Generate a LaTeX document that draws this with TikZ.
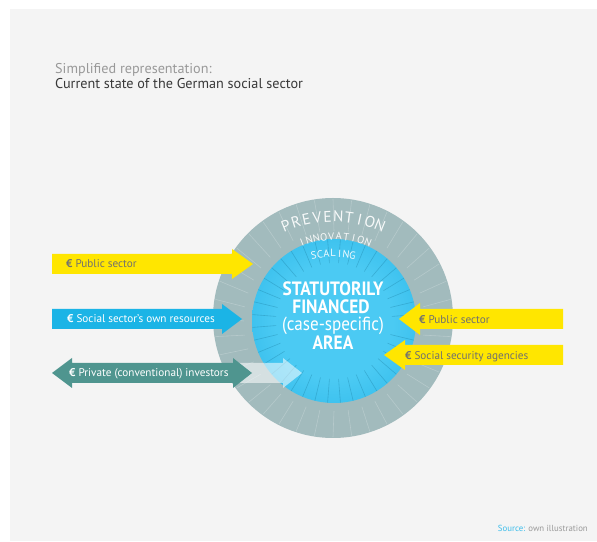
\documentclass[tikz,border=0pt]{standalone}
\usepackage{fontspec}
\setmainfont{PT Sans}
\newfontfamily\din[FakeStretch=0.9]{PT Sans}
\usetikzlibrary{calc}
\definecolor{bgc}{HTML}{F4F4F4}
\definecolor{ylw}{HTML}{FFE600}
\definecolor{cyn}{HTML}{1BB4E6}
\definecolor{tel}{HTML}{4F958F}
\definecolor{ringc}{HTML}{B2C9CB}
\definecolor{ringd}{HTML}{A2BBBD}
\definecolor{bc1}{HTML}{4BCAF3}
\definecolor{bc2}{HTML}{12A8E0}
\definecolor{ytxt}{HTML}{707070}
\definecolor{srcc}{HTML}{3CBDEB}
\pgfdeclareradialshading{bluecore}{\pgfpoint{0bp}{0bp}}{color(0bp)=(bc1); color(18bp)=(bc1); color(50bp)=(bc2)}
\pgfdeclareradialshading{ringsh}{\pgfpoint{0bp}{0bp}}{color(0bp)=(ringd); color(38bp)=(ringd); color(50bp)=(ringc!85!white)}
\tikzset{
  arrtxt/.style={inner sep=0pt, anchor=base west, font=\fontsize{11.2}{13}\selectfont},
  ringtxt/.style={inner sep=0pt, anchor=base, text=white, text opacity=0.92},
  coretxt/.style={inner sep=0pt, anchor=base, text=white, font=\din\bfseries\fontsize{19.3}{21}\selectfont},
}
\begin{document}
\begin{tikzpicture}[x=1pt,y=1pt]
\useasboundingbox (0,0) rectangle (597,541);
\fill[white] (0,0) rectangle (597,541);
\fill[bgc] (10,0) rectangle (597,532);
% title
\node[inner sep=0pt, anchor=base west, text=black!40, font=\fontsize{14.2}{16}\selectfont] (t1) at (55,467) {Simplified representation:};
\node[inner sep=0pt, anchor=base west, text=black!78, font=\fontsize{14.2}{16}\selectfont] (t2) at (55,452) {Current state of the German social sector};
% circle
\coordinate (C) at (333,223);
\coordinate (B) at (334,220);
\shade[shading=ringsh] (C) circle (120);
\foreach \a in {0,9,...,351}{
  \draw[white, opacity=0.22, line width=0.6pt] ($(B)+(\a:90)$) -- ($(C)+(\a:119)$);
}
\fill[ringd] (B) circle (89);
\shade[shading=bluecore] (B) circle (82);
\foreach \a in {4.5,13.5,...,355}{
  \draw[black!40!bc2, opacity=0.28, line width=0.6pt] ($(B)+(\a:58)$) -- ($(B)+(\a:82)$);
}
% ring words
\coordinate (P0) at (333,199);
\foreach \ch [count=\i] in {P,R,E,V,E,N,T,I,O,N}{
  \pgfmathsetmacro\ang{90+(5.5-\i)*4.9}
  \node[ringtxt, font=\fontsize{15.5}{16}\selectfont, rotate=\ang-90] (pv\i) at ($(P0)+(\ang:120)$) {\ch};
}
\coordinate (I0) at (335,215);
\foreach \ch [count=\i] in {I,N,N,O,V,A,T,I,O,N}{
  \pgfmathsetmacro\ang{90+(5.5-\i)*4.8}
  \node[ringtxt, font=\fontsize{10.5}{12}\selectfont, rotate=\ang-90] (in\i) at ($(I0)+(\ang:86)$) {\ch};
}
\coordinate (S0) at (333,184);
\foreach \ch [count=\i] in {S,C,A,L,I,N,G}{
  \pgfmathsetmacro\ang{90+(4-\i)*3.6}
  \node[ringtxt, font=\fontsize{10.5}{12}\selectfont, rotate=\ang-90] (sc\i) at ($(S0)+(\ang:100)$) {\ch};
}
% core text
\node[coretxt] (c1) at (333,245) {STATUTORILY};
\node[coretxt] (c2) at (331,227.5) {FINANCED};
\node[coretxt, font=\din\fontsize{19}{20}\selectfont] (c3) at (333,210) {(case-specific)};
\node[coretxt] (c4) at (333,191) {AREA};
% left arrows
\fill[ylw] (52,267)--(232,267)--(232,262)--(253,277)--(232,292)--(232,287)--(52,287)--cycle;
\node[arrtxt, text=ytxt] (a1) at (66,273) {\textbf{€} Public sector};
\fill[cyn] (52,212)--(222,212)--(222,207)--(242,222)--(222,237)--(222,232)--(52,232)--cycle;
\node[arrtxt, text=white] (a2) at (67,218) {\textbf{€} Social sector's own resources};
\fill[white, opacity=0.55] (237,158)--(283,158)--(283,153)--(302,168)--(283,183)--(283,178)--(237,178)--cycle;
\fill[tel] (52,168)--(72,183)--(72,178)--(233,178)--(233,183)--(252,168)--(233,153)--(233,158)--(72,158)--(72,153)--cycle;
\node[arrtxt, text=white] (a3) at (69,164) {\textbf{€} Private (conventional) investors};
% right arrows
\fill[ylw] (563,212)--(420,212)--(420,206)--(399,222)--(420,238)--(420,232)--(563,232)--cycle;
\node[arrtxt, text=ytxt] (a4) at (419,217) {\textbf{€} Public sector};
\fill[ylw] (563,176)--(405,176)--(405,171)--(384,186)--(405,201)--(405,196)--(563,196)--cycle;
\node[arrtxt, text=ytxt] (a5) at (405,181) {\textbf{€} Social security agencies};
% source
\node[inner sep=0pt, anchor=base east, font=\fontsize{8.8}{10}\selectfont] (src) at (588,10) {\textcolor{srcc}{Source:} \textcolor{black!40}{own illustration}};
\end{tikzpicture}
\end{document}
